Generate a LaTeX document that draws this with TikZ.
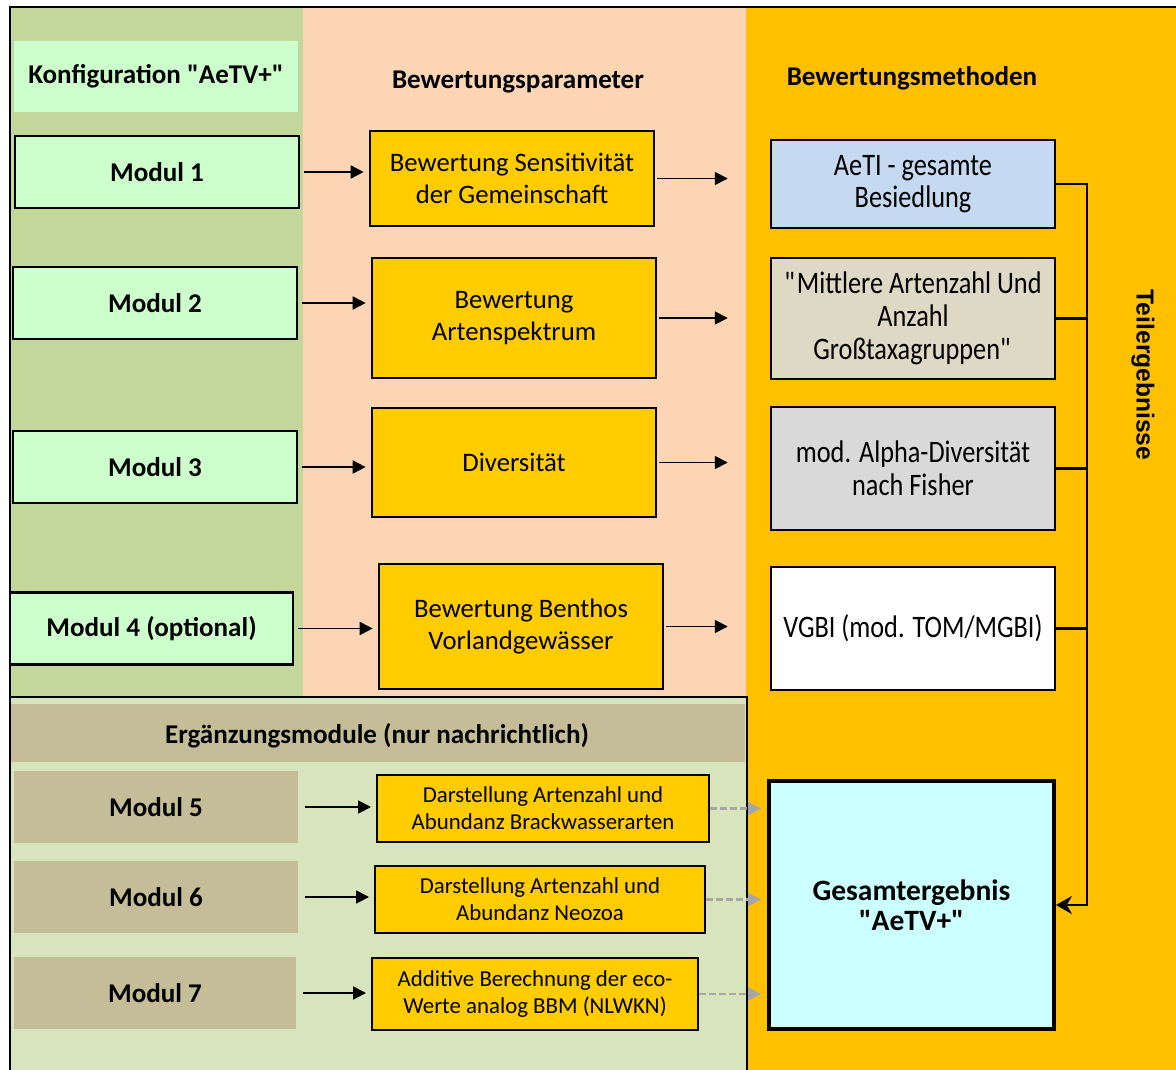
\documentclass[tikz,border=0pt]{standalone}
\usepackage{fontspec}
\setmainfont{Carlito}
\newfontfamily\tallfont[FakeStretch=0.84]{Carlito}
\newfontfamily\arialfont{Liberation Sans}
\usepackage{tikz}
\usetikzlibrary{arrows}
\usetikzlibrary{arrows.meta}
\usetikzlibrary{calc}

\definecolor{konfgreen}{HTML}{C4D79B}
\definecolor{parampeach}{HTML}{FCD5B4}
\definecolor{methorange}{HTML}{FFC000}
\definecolor{ergaenz}{HTML}{D8E4BC}
\definecolor{tanband}{HTML}{C4BD97}
\definecolor{mintgreen}{HTML}{CCFFCC}
\definecolor{paramyellow}{HTML}{FFCC00}
\definecolor{aetiblue}{HTML}{C5D9F1}
\definecolor{artbeige}{HTML}{DDD9C4}
\definecolor{divgray}{HTML}{D9D9D9}
\definecolor{resultcyan}{HTML}{CCFFFF}
\definecolor{dashgray}{HTML}{A6A6A6}

\begin{document}
\begin{tikzpicture}[x=0.1mm, y=-0.1mm,
    boldtext/.style={font=\fontsize{7.7}{9}\selectfont\bfseries},
    konfig/.style={boldtext, fill=mintgreen, minimum width=28.4mm, minimum height=7.1mm},
    modul/.style={boldtext, draw, line width=0.6pt, fill=mintgreen, minimum width=28.4mm, minimum height=7.2mm},
    ergmodul/.style={boldtext, fill=tanband, minimum width=28.4mm, minimum height=7.2mm},
    param/.style={draw, line width=0.6pt, fill=paramyellow, minimum width=28.4mm, align=center, font=\fontsize{7.6}{9.1}\selectfont},
    methode/.style={draw, line width=0.6pt, minimum width=28.4mm, inner xsep=1pt, align=center, font=\tallfont\fontsize{8.9}{9.3}\selectfont},
    ergbox/.style={draw, line width=0.6pt, fill=paramyellow, minimum height=6.7mm, align=center, font=\fontsize{6.5}{7.7}\selectfont},
    pfeil/.style={-{Triangle[length=1.3mm, width=1.3mm]}, line width=0.5pt},
    graupfeil/.style={-{Triangle[length=1.3mm, width=1.3mm]}, dashgray, line width=0.6pt, dash pattern=on 0.7mm off 0.3mm}]
  \useasboundingbox (0,0) rectangle (1176,1070);
  \clip (0,0) rectangle (1176,1070);

  % columns
  \fill [konfgreen] (10,7) rectangle (303,696);
  \fill [parampeach] (303,7) rectangle (746,696);
  \fill [methorange] (746,7) rectangle (1190,1080);
  \fill [ergaenz] (10,697) rectangle (747,1080);
  \fill [tanband] (10,704) rectangle (745,762);
  \draw [line width=0.7pt] (1190,7) -- (10,7) -- (10,1080); % outer frame
  \draw [line width=0.7pt] (10,697) -- (747,697) -- (747,1080); % frame Ergaenzung

  % headers
  \node [konfig] (konf) at (156,76.5) {Konfiguration \textquotedbl AeTV+\textquotedbl};
  \node [boldtext] (kopfparam) at (518,82) {Bewertungsparameter};
  \node [boldtext] (kopfmeth) at (912,78) {Bewertungsmethoden};
  \node [boldtext] (kopferg) at (377,736) {Ergänzungsmodule (nur nachrichtlich)};

  % module
  \node [modul] (mod1) at (157,172) {Modul 1};
  \node [modul] (mod2) at (155,303) {Modul 2};
  \node [modul] (mod3) at (155,467) {Modul 3};
  \node [modul, minimum width=28.3mm] (mod4) at (151.5,628.5) {Modul 4 (optional)};

  % parameter
  \node [param, minimum height=9.5mm] (par1) at (512,178.5) {Bewertung Sensitivität\\der Gemeinschaft};
  \node [param, minimum height=12mm] (par2) at (514,318) {Bewertung\\Artenspektrum};
  \node [param, minimum height=10.9mm] (par3) at (514,462.5) {Diversität};
  \node [param, minimum height=12.5mm] (par4) at (521,626.5) {Bewertung Benthos\\Vorlandgewässer};

  % methoden
  \node [methode, fill=aetiblue, minimum height=8.8mm] (meth1) at (913,184) {AeTI - gesamte\\Besiedlung};
  \node [methode, fill=artbeige, minimum height=12.1mm] (meth2) at (913,318.5) {\textquotedbl Mittlere Artenzahl Und\\Anzahl\\Großtaxagruppen\textquotedbl};
  \node [methode, fill=divgray, minimum height=12.3mm] (meth3) at (913,468.5) {mod. Alpha-Diversität\\nach Fisher};
  \node [methode, fill=white, minimum height=12.3mm] (meth4) at (913,628.5) {VGBI (mod. TOM/MGBI)};

  \node [draw, line width=1.1pt, fill=resultcyan, minimum width=28.5mm, minimum height=24.8mm, align=center,
         font=\fontsize{8.4}{8.6}\selectfont\bfseries] (gesamt) at (911.5,905) {Gesamtergebnis\\\textquotedbl AeTV+\textquotedbl};
  \node [rotate=-90, font=\arialfont\bfseries\fontsize{7}{8}\selectfont] (teil) at (1143,375) {Teilergebnisse};

  % ergaenzungsmodule
  \node [ergmodul] (mod5) at (156,807) {Modul 5};
  \node [ergmodul] (mod6) at (156,897) {Modul 6};
  \node [ergmodul, minimum width=28.2mm] (mod7) at (155,993) {Modul 7};
  \node [ergbox, minimum width=33.2mm] (erg1) at (543,808.5) {Darstellung Artenzahl und\\Abundanz Brackwasserarten};
  \node [ergbox, minimum width=33mm] (erg2) at (540,899.5) {Darstellung Artenzahl und\\Abundanz Neozoa};
  \node [ergbox, minimum width=32.6mm, minimum height=7.2mm] (erg3) at (535,994) {Additive Berechnung der eco-\\Werte analog BBM (NLWKN)};

  % arrows
  \foreach \a/\b in {mod1/par1, mod2/par2, mod3/par3, mod4/par4}
    \draw [pfeil, shorten <=1.1pt, shorten >=1.5pt] (\a.east) -- (\a.east -| \b.west);
  \foreach \a/\b in {par1/meth1, par2/meth2, par3/meth3, par4/meth4}
    \draw [pfeil, shorten <=0.6pt, shorten >=12pt] (\a.east) -- (\a.east -| \b.west);
  \foreach \a/\b in {mod5/erg1, mod6/erg2, mod7/erg3}
    \draw [pfeil, shorten <=1.7pt, shorten >=1.4pt] (\a.east) -- (\a.east -| \b.west);
  \foreach \a in {erg1, erg2, erg3}
    \draw [graupfeil, shorten >=1.7pt] (\a.east) -- (\a.east -| gesamt.west);

  % teilergebnisse
  \coordinate (bus) at (1087,184);
  \draw [line width=0.6pt, -{Stealth[length=1.6mm, width=1.8mm]}] (meth1.east) -- (meth1.east -| bus) -- (bus |- gesamt.east) -- (gesamt.east);
  \foreach \m in {meth2, meth3, meth4}
    \draw [line width=0.6pt] (\m.east) -- (\m.east -| bus);
\end{tikzpicture}
\end{document}
